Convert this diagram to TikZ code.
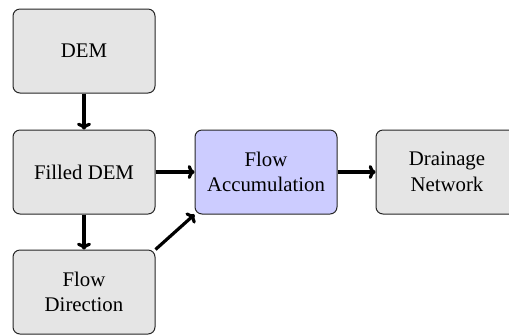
\documentclass[tikz,border=0pt]{standalone}
\usepackage{fontspec}
\setmainfont{Liberation Serif}
\usetikzlibrary{arrows.meta}
\begin{document}
\begin{tikzpicture}[x=0.5pt,y=-0.5pt,
  stage/.style={draw=black!85, line width=0.5pt, rounded corners=3.5pt,
    minimum width=71pt, minimum height=42pt, inner sep=0pt, align=center,
    font=\fontsize{10.4}{12.8}\selectfont, fill=gray!20},
  focus/.style={stage, fill=blue!20},
  flow/.style={-{To[length=3.4pt,width=7pt]}, line width=1.6pt}]
  \useasboundingbox (0,0) rectangle (509,334);
  \clip (0,0) rectangle (509,334);
  \node[stage] (dem)    at (84,51)   {DEM};
  \node[stage] (filled) at (84,172)  {Filled DEM};
  \node[stage] (dir)    at (84,292)  {Flow\\Direction};
  \node[focus] (acc)    at (266,172) {Flow\\Accumulation};
  \node[stage] (net)    at (447,172) {Drainage\\Network};
  \draw[flow] (dem) -- (filled);
  \draw[flow] (filled) -- (dir);
  \draw[flow] (filled) -- (acc);
  \draw[flow] (dir.north east) -- (acc.south west);
  \draw[flow] (acc) -- (net);
\end{tikzpicture}
\end{document}
